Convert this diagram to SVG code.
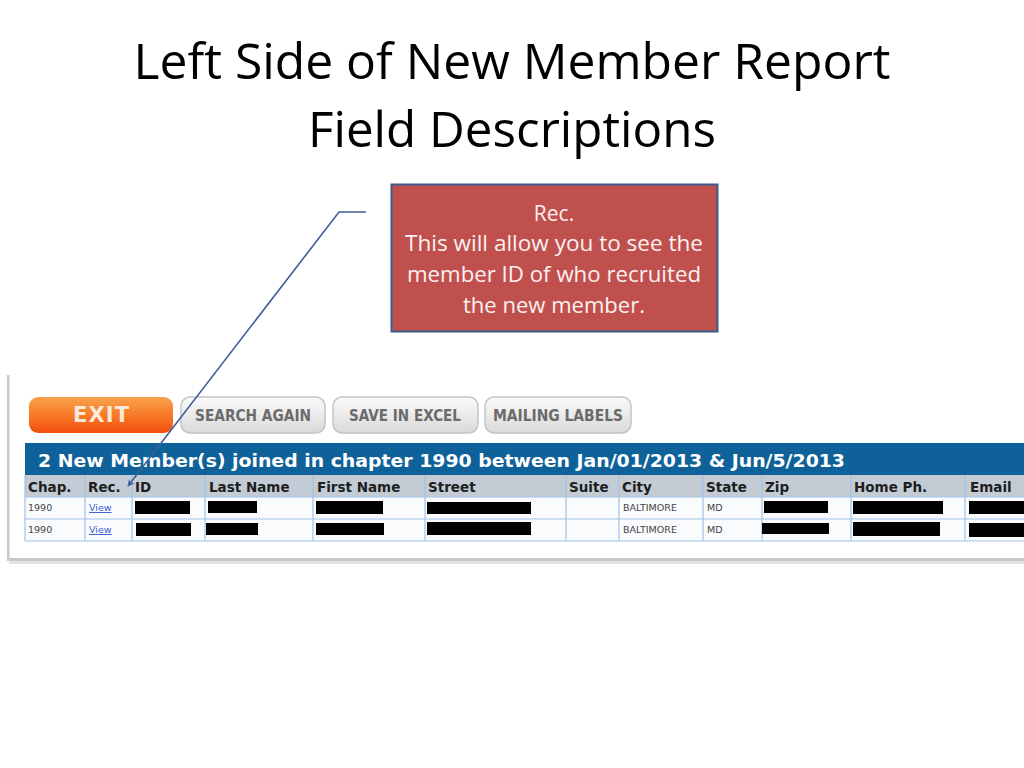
<svg xmlns="http://www.w3.org/2000/svg" width="1024" height="768" viewBox="0 0 1024 768">
<defs>
<linearGradient id="gExit" x1="0" y1="0" x2="0" y2="1">
<stop offset="0" stop-color="#f9a24c"/><stop offset="0.5" stop-color="#f77a28"/><stop offset="1" stop-color="#f24d0c"/>
</linearGradient>
<linearGradient id="gBtn" x1="0" y1="0" x2="0" y2="1">
<stop offset="0" stop-color="#fbfbfb"/><stop offset="1" stop-color="#d9d9d9"/>
</linearGradient>
<marker id="arr" viewBox="0 0 10 10" refX="9" refY="5" markerWidth="7" markerHeight="7" orient="auto" markerUnits="userSpaceOnUse">
<path d="M0,0 L10,5 L0,10 L3,5 Z" fill="#3d6096"/>
</marker>
<style>
.title{font-family:"Open Sans","Liberation Sans",Arial,sans-serif;font-size:50px;fill:#000;text-anchor:middle}
.call{font-family:"Open Sans","Liberation Sans",sans-serif;font-size:21px;fill:#fbf1f1;text-anchor:middle}
.btn{fill:url(#gBtn);stroke:#c4c4c4;stroke-width:1.5}
.btxt{font-family:"DejaVu Sans",Verdana,sans-serif;font-weight:bold;font-size:15px;fill:#6b6b6b;text-anchor:middle}
.hd{font-family:"DejaVu Sans",Verdana,sans-serif;font-weight:bold;font-size:13.5px;fill:#1e1e1e}
.cell{font-family:"DejaVu Sans",Verdana,sans-serif;font-size:9.5px;fill:#444}
.link{font-family:"DejaVu Sans",Verdana,sans-serif;font-size:9.5px;fill:#3b5bd0;text-decoration:underline}
.grid{stroke:#9fc3ea;stroke-width:1.2}
.red{fill:#000}
</style>
</defs>
<rect width="1024" height="768" fill="#ffffff"/>

<g id="title">
<text class="title" x="512" y="79" textLength="757" lengthAdjust="spacingAndGlyphs">Left Side of New Member Report</text>
<text class="title" x="512" y="147" textLength="408" lengthAdjust="spacingAndGlyphs">Field Descriptions</text>
</g>

<g id="screenshot">
<rect x="7" y="375" width="2.5" height="186" fill="#c8c8c8"/>
<rect x="7" y="558" width="1017" height="3" fill="#c8c8c8"/>
<rect x="9" y="561" width="1015" height="3" fill="#e4e4e4"/>

<g id="btn-exit">
<rect x="29" y="397" width="144" height="36" rx="9" fill="url(#gExit)"/>
<text x="101" y="422" font-family="DejaVu Sans,Verdana,sans-serif" font-weight="bold" font-size="21" fill="#fde9dc" text-anchor="middle" textLength="56" lengthAdjust="spacing">EXIT</text>
</g>
<g id="btn-search">
<rect class="btn" x="181" y="397" width="144" height="36" rx="9"/>
<text class="btxt" x="253" y="421" textLength="116" lengthAdjust="spacingAndGlyphs">SEARCH AGAIN</text>
</g>
<g id="btn-excel">
<rect class="btn" x="333" y="397" width="145" height="36" rx="9"/>
<text class="btxt" x="405" y="421" textLength="112" lengthAdjust="spacingAndGlyphs">SAVE IN EXCEL</text>
</g>
<g id="btn-labels">
<rect class="btn" x="485" y="397" width="146" height="36" rx="9"/>
<text class="btxt" x="558" y="421" textLength="130" lengthAdjust="spacingAndGlyphs">MAILING LABELS</text>
</g>

<g id="table">
<rect x="25" y="443" width="999" height="32" fill="#0f6299"/>
<text x="38" y="467" font-family="DejaVu Sans,Verdana,sans-serif" font-weight="bold" font-size="18" fill="#ffffff" textLength="807" lengthAdjust="spacingAndGlyphs">2 New Member(s) joined in chapter 1990 between Jan/01/2013 &amp; Jun/5/2013</text>
<rect x="25" y="475" width="999" height="22" fill="#c3ccd5"/>
<rect x="25" y="497" width="999" height="44" fill="#f9fbfd"/>
<g class="grid">
<line x1="25" y1="497" x2="1024" y2="497"/>
<line x1="25" y1="519" x2="1024" y2="519"/>
<line x1="25" y1="541" x2="1024" y2="541"/>
<line x1="25" y1="475" x2="25" y2="541"/>
<line x1="85" y1="475" x2="85" y2="541"/>
<line x1="132" y1="475" x2="132" y2="541"/>
<line x1="205" y1="475" x2="205" y2="541"/>
<line x1="313" y1="475" x2="313" y2="541"/>
<line x1="425" y1="475" x2="425" y2="541"/>
<line x1="566" y1="475" x2="566" y2="541"/>
<line x1="619" y1="475" x2="619" y2="541"/>
<line x1="703" y1="475" x2="703" y2="541"/>
<line x1="762" y1="475" x2="762" y2="541"/>
<line x1="851" y1="475" x2="851" y2="541"/>
<line x1="965" y1="475" x2="965" y2="541"/>
</g>
<text class="hd" x="28" y="492">Chap.</text>
<text class="hd" x="88" y="492">Rec.</text>
<text class="hd" x="135" y="492">ID</text>
<text class="hd" x="209" y="492">Last Name</text>
<text class="hd" x="317" y="492">First Name</text>
<text class="hd" x="428" y="492">Street</text>
<text class="hd" x="569" y="492">Suite</text>
<text class="hd" x="622" y="492">City</text>
<text class="hd" x="706" y="492">State</text>
<text class="hd" x="765" y="492">Zip</text>
<text class="hd" x="854" y="492">Home Ph.</text>
<text class="hd" x="970" y="492">Email</text>

<text class="cell" x="28" y="511">1990</text>
<text class="link" x="89" y="511">View</text>
<text class="cell" x="623" y="511">BALTIMORE</text>
<text class="cell" x="707" y="511">MD</text>
<text class="cell" x="28" y="533">1990</text>
<text class="link" x="89" y="533">View</text>
<text class="cell" x="623" y="533">BALTIMORE</text>
<text class="cell" x="707" y="533">MD</text>

<rect class="red" x="135" y="501" width="55" height="13"/>
<rect class="red" x="208" y="501" width="49" height="12"/>
<rect class="red" x="316" y="501" width="67" height="13"/>
<rect class="red" x="427" y="502" width="104" height="12"/>
<rect class="red" x="764" y="501" width="64" height="12"/>
<rect class="red" x="853" y="501" width="90" height="13"/>
<rect class="red" x="969" y="501" width="55" height="13"/>
<rect class="red" x="136" y="523" width="55" height="13"/>
<rect class="red" x="206" y="523" width="52" height="12"/>
<rect class="red" x="316" y="523" width="68" height="12"/>
<rect class="red" x="427" y="522" width="104" height="13"/>
<rect class="red" x="762" y="523" width="67" height="11"/>
<rect class="red" x="853" y="522" width="87" height="14"/>
<rect class="red" x="969" y="523" width="55" height="14"/>
</g>
</g>

<g id="callout">
<rect x="391.5" y="184.5" width="326" height="147" fill="#c0504d" stroke="#385d8a" stroke-width="2"/>
<text class="call" x="554" y="221">Rec.</text>
<text class="call" x="554" y="251" textLength="298" lengthAdjust="spacingAndGlyphs">This will allow you to see the</text>
<text class="call" x="554" y="282" textLength="294" lengthAdjust="spacingAndGlyphs">member ID of who recruited</text>
<text class="call" x="554" y="313" textLength="182" lengthAdjust="spacingAndGlyphs">the new member.</text>
</g>

<g id="connectors">
<polyline points="366,212 339,212 128,486" fill="none" stroke="#3d6096" stroke-width="1.6" marker-end="url(#arr)"/>
</g>
</svg>
